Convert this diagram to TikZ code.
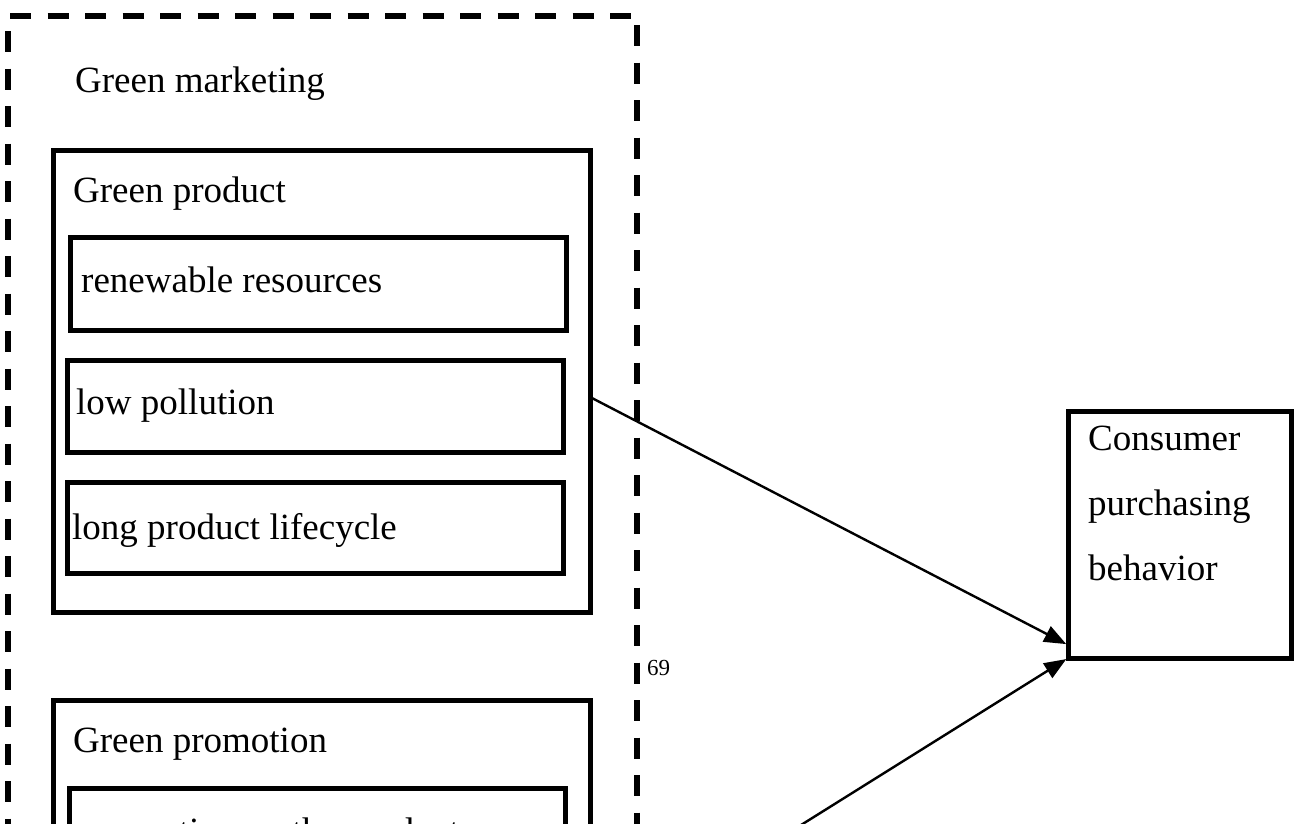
\documentclass[tikz,border=0pt]{standalone}
\usepackage{fontspec}
\setmainfont{Liberation Serif}
\usetikzlibrary{arrows.meta}
\tikzset{
  boxshape/.style={draw, line width=5pt, rectangle, inner sep=0pt, outer sep=0pt, anchor=north west},
  txt/.style={anchor=base west, inner sep=0pt, font=\fontsize{37}{42}\selectfont},
  smalltxt/.style={anchor=base west, inner sep=0pt, font=\fontsize{23}{26}\selectfont},
  dashedframe/.style={line width=5.5pt, dash pattern=on 21pt off 16.5pt},
  link/.style={line width=2.4pt, -{Triangle[length=22pt,width=17pt]}, shorten >=2pt}
}
\begin{document}
\begin{tikzpicture}[x=1pt,y=-1pt]
\clip (0,0) rectangle (1297,823);
\fill[white] (0,0) rectangle (1297,823);
% outer dashed frame
\draw[dashedframe] (8,31) -- (8,1000);
\draw[dashedframe] (10,16) -- (640,16);
\draw[dashedframe] (637,25) -- (637,1000);
\node[txt] (gm) at (75,92) {Green marketing};
% green product
\node[boxshape, minimum width=537pt, minimum height=462pt] (gp) at (53,150) {};
\node[txt] (gpt) at (73,202) {Green product};
\node[boxshape, minimum width=496pt, minimum height=93pt] (rr) at (70,237) {};
\node[txt] (rrt) at (81,292) {renewable resources};
\node[boxshape, minimum width=496pt, minimum height=92pt] (lp) at (67,360) {};
\node[txt] (lpt) at (76,414) {low pollution};
\node[boxshape, minimum width=496pt, minimum height=91pt] (lc) at (67,482) {};
\node[txt] (lct) at (72,539) {long product lifecycle};
\node[smalltxt] (pg) at (647,675) {69};
% green promotion
\node[boxshape, minimum width=537pt, minimum height=514pt] (gpr) at (53,700) {};
\node[txt] (gprt) at (73,752) {Green promotion};
\node[boxshape, minimum width=496pt, minimum height=92pt] (pp) at (69,788) {};
\node[txt] (ppt) at (82,843) {promotion on the product};
% consumer
\node[boxshape, minimum width=223pt, minimum height=247pt] (cb) at (1068,411) {};
\node[txt] (c1) at (1088,450) {Consumer};
\node[txt] (c2) at (1088,515) {purchasing};
\node[txt] (c3) at (1088,580) {behavior};
% connectors
\draw[link] ([yshift=-16pt]gp.east) -- ([yshift=13pt]cb.south west);
\draw[link] (gpr.east) -- (cb.south west);
\end{tikzpicture}
\end{document}
